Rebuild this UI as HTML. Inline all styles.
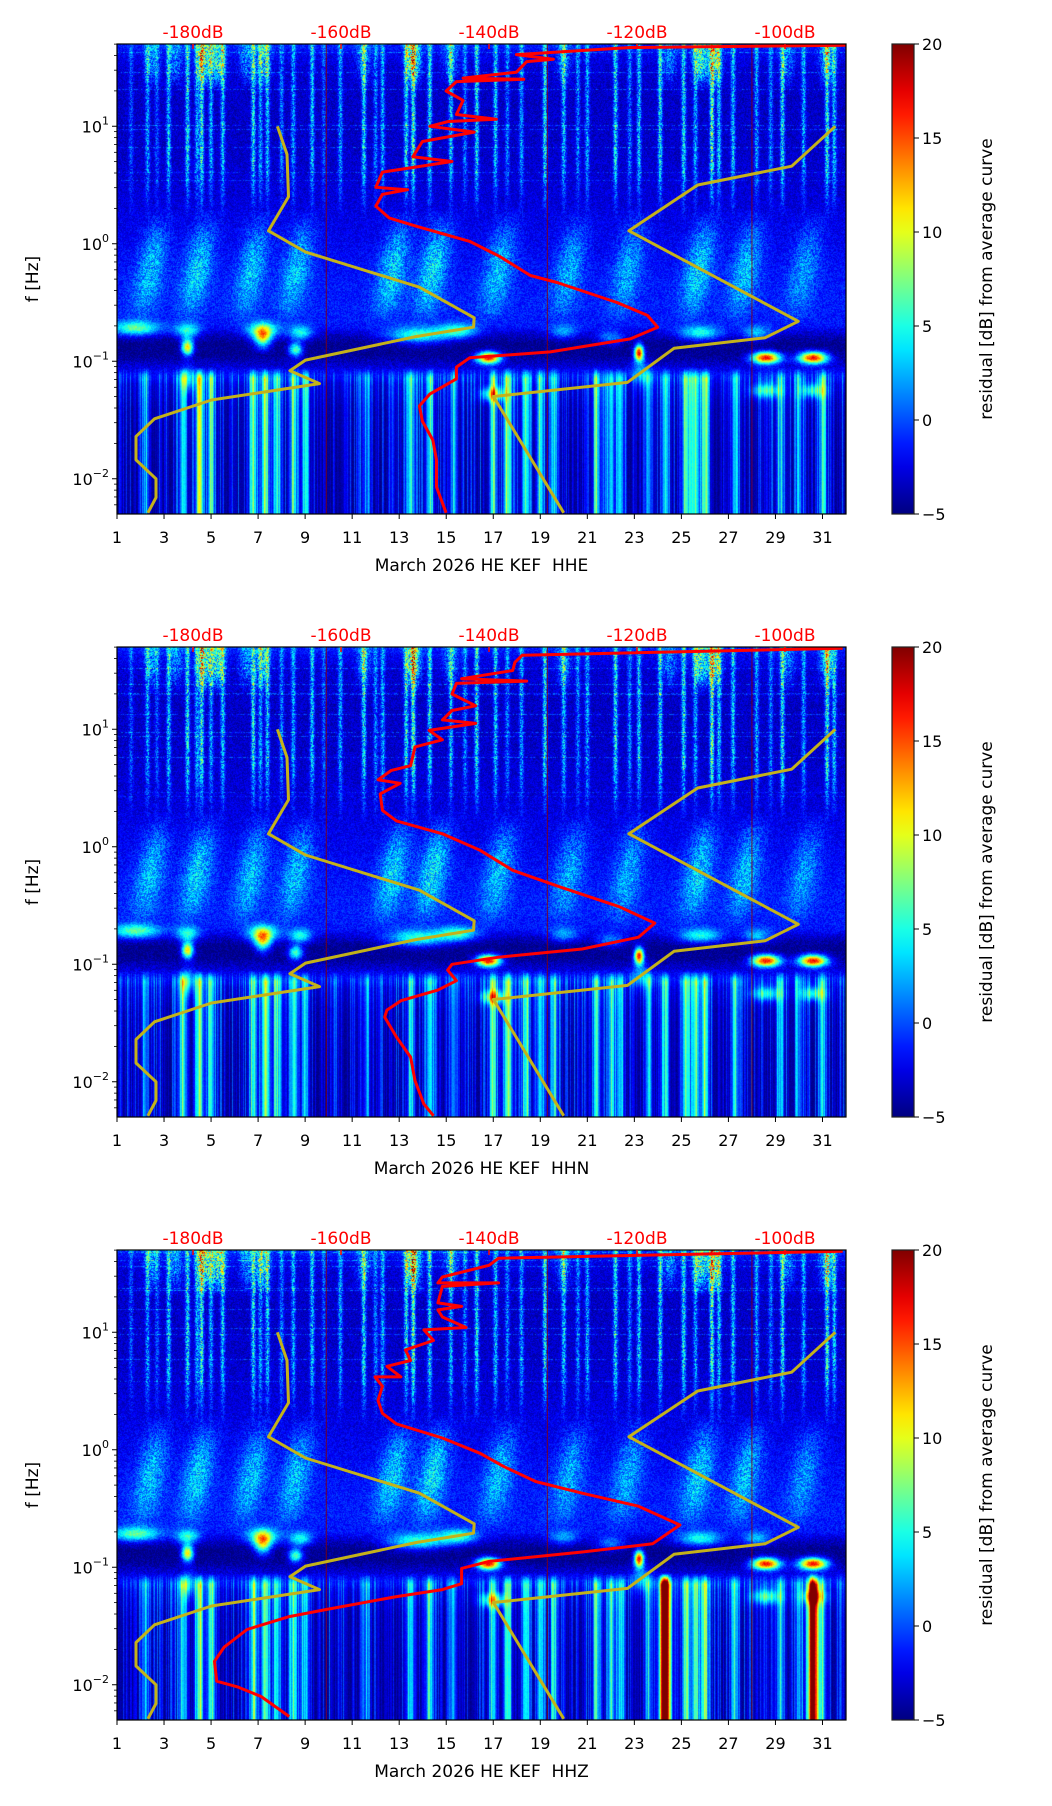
<!DOCTYPE html>
<html><head><meta charset="utf-8">
<style>
html,body{margin:0;padding:0;background:#fff;}
#wrap{position:relative;width:1052px;height:1806px;overflow:hidden;}
canvas{position:absolute;}
svg{position:absolute;left:0;top:0;}
text{font-family:"DejaVu Sans","Liberation Sans",sans-serif;}
</style></head>
<body>
<div id="wrap">
<canvas id="c0" width="729" height="470" style="left:117px;top:44px"></canvas>
<canvas id="c1" width="729" height="470" style="left:117px;top:647px"></canvas>
<canvas id="c2" width="729" height="470" style="left:117px;top:1250px"></canvas>
<svg id="s" width="1052" height="1806"></svg>
</div>
<script>
// ---- data ----
const xTicks = [1,3,5,7,9,11,13,15,17,19,21,23,25,27,29,31];
const yTickExp = [-2,-1,0,1];
const dbTicks = [-180,-160,-140,-120,-100];
const cbTicks = [-5,0,5,10,15,20];
const titles = ["March 2026 HE KEF\u00a0\u00a0HHE","March 2026 HE KEF\u00a0\u00a0HHN","March 2026 HE KEF\u00a0\u00a0HHZ"];
const panelTops = [44,647,1250];
const gapDays = [9.9,19.3,28.0];

const nlnmDb   = [-168.6,-167.3,-167.1,-169.8,-164.8,-149.4,-142.0,-142.1,-149.9,-164.8,-166.9,-162.9,-177.5,-185.2,-187.7,-187.7,-185.0,-185.0,-186.1];
const nlnmLogf = [1.0,0.76,0.40,0.11,-0.07,-0.37,-0.63,-0.71,-0.79,-0.99,-1.08,-1.19,-1.33,-1.49,-1.64,-1.84,-2.0,-2.16,-2.29];
const nhnmDb   = [-93.2,-99.1,-111.8,-121.1,-98.2,-102.7,-115.0,-121.3,-139.4,-129.9];
const nhnmLogf = [1.0,0.66,0.50,0.11,-0.66,-0.80,-0.89,-1.18,-1.30,-2.29];

const redDb1   = [-91.8,-120.9,-136.3,-131.3,-134.9,-136.3,-143.5,-135.3,-144.4,-145.8,-143.5,-144.4,-139.0,-145.5,-148.0,-142.0,-149.0,-150.3,-145.0,-154.4,-155.3,-151.0,-154.4,-155.3,-153.5,-149.9,-142.6,-138.5,-134.4,-130.8,-122.7,-118.6,-117.2,-120.9,-131.7,-142.6,-144.4,-144.4,-148.0,-149.4,-149.0,-147.6,-147.1,-147.1,-145.8];
const redLogf1 = [1.69,1.67,1.61,1.57,1.55,1.46,1.41,1.40,1.38,1.30,1.22,1.10,1.06,1.04,1.00,0.95,0.87,0.74,0.70,0.61,0.48,0.46,0.42,0.32,0.22,0.15,0.02,-0.11,-0.27,-0.33,-0.50,-0.61,-0.71,-0.81,-0.92,-0.97,-1.05,-1.15,-1.28,-1.38,-1.51,-1.67,-1.84,-2.07,-2.29];
const redDb2   = [-92.2,-135.5,-136.5,-136.8,-143.7,-134.9,-144.4,-145.0,-141.8,-145.0,-146.3,-141.8,-148.1,-146.3,-150.0,-150.6,-153.2,-155.0,-152.0,-154.7,-154.4,-152.5,-146.3,-141.2,-136.8,-130.5,-122.4,-117.6,-119.8,-127.4,-138.7,-145.0,-145.6,-144.4,-146.9,-151.9,-153.8,-154.1,-152.5,-150.6,-150.0,-148.8,-147.5];
const redLogf2 = [1.69,1.63,1.57,1.50,1.43,1.41,1.39,1.30,1.20,1.16,1.08,1.05,0.99,0.91,0.85,0.69,0.65,0.57,0.54,0.45,0.31,0.22,0.11,-0.03,-0.20,-0.34,-0.51,-0.65,-0.77,-0.87,-0.94,-1.00,-1.05,-1.14,-1.22,-1.31,-1.39,-1.45,-1.62,-1.79,-1.99,-2.19,-2.29];
const redDb3   = [-92.2,-138.7,-140.0,-146.3,-146.9,-138.7,-146.3,-146.9,-143.7,-146.9,-146.3,-143.1,-148.8,-147.5,-151.3,-150.6,-153.8,-151.9,-155.4,-154.4,-155.0,-154.4,-152.5,-146.3,-141.2,-138.1,-133.7,-127.4,-119.8,-114.2,-117.9,-127.4,-140.0,-143.7,-143.7,-146.3,-152.5,-162.0,-167.0,-172.7,-175.8,-177.1,-176.8,-173.9,-170.8,-167.0];
const redLogf3 = [1.69,1.63,1.57,1.47,1.42,1.42,1.39,1.25,1.22,1.19,1.13,1.04,1.02,0.93,0.85,0.76,0.71,0.62,0.62,0.54,0.42,0.31,0.22,0.10,-0.03,-0.14,-0.27,-0.37,-0.48,-0.64,-0.80,-0.87,-0.95,-1.01,-1.14,-1.19,-1.25,-1.36,-1.42,-1.53,-1.68,-1.80,-1.97,-2.02,-2.10,-2.27];

// spectrogram features
const rowLogf = [1.7,1.62,1.5,1.2,0.8,0.4,0.0,-0.3,-0.55,-0.7,-0.78,-0.85,-0.95,-1.05,-1.12,-1.2,-1.4,-1.8,-2.3];
const rowVal  = [-1.0,-2.2,-3.0,-3.3,-3.2,-2.8,-2.2,-1.5,-1.2,-1.5,-3.5,-4.7,-4.5,-2.8,-2.0,-3.5,-4.4,-4.7,-4.7];
const hfDays = [1.6,2.3,2.7,3.2,4.0,4.4,4.6,5.0,5.5,6.8,7.1,7.4,8.0,8.5,9.3,9.8,10.5,11.5,12.0,12.3,13.3,13.6,14.3,15.2,15.8,16.3,17.1,17.6,18.2,19.2,20.0,20.6,21.0,22.2,22.8,23.2,24.1,25.1,25.6,26.3,26.6,27.2,28.2,28.8,29.3,30.2,31.2,31.5];
const hfAmp  = [3,5,3,6,7,5,8,5,6,7,5,6,4,5,6,3,5,7,4,5,7,9,7,6,4,7,6,4,5,7,6,4,5,7,4,6,7,7,5,9,6,6,5,4,7,5,8,6];
const topDays = [2.5,3.5,4.7,5.3,6.5,7.2,11.5,13.6,15.2,20.0,24.5,25.8,26.4,29.5,31.2];
const topAmp  = [4,4,9,8,4,6,4,10,4,4,4,8,8,4,6];
const midDays = [2.0,4.0,6.3,8.2,12.3,14.0,16.8,19.8,22.3,25.3,27.3,29.8];
const midAmp  = [4.5,5,4.5,4.5,5,5.5,4.5,4,4,5,4.5,3.5];
const lfDays = [2.2,3.8,4.5,5.0,6.8,7.3,7.8,8.5,9.0,11.6,13.5,14.3,15.3,17.0,17.6,18.4,19.0,19.6,21.4,22.0,22.4,23.6,24.3,25.2,25.6,26.0,27.3,29.2,30.0,31.0];
const lfAmp  = [5,8,11,8,9,11,8,8,7,4,7,8,5,8,10,9,8,7,8,7,7,6,7,10,10,10,7,6,5,7];
const blobDay  = [4.0,7.2,8.6,16.8,23.2,28.6,30.6,17.0,28.6,30.6,4.0,1.8,4.0,7.2,8.8,13.8,15.5,20.0,22.0,25.8,28.2,23.3];
const blobLogf = [-0.88,-0.8,-0.9,-0.97,-0.93,-0.97,-0.97,-1.28,-1.25,-1.25,-1.15,-0.72,-0.74,-0.74,-0.76,-0.78,-0.74,-0.75,-0.8,-0.76,-0.76,-1.1];
const blobAmp  = [16,12,11,21,21,21,21,10,8,8,6,9,8,9,8,9,8,5,5,8,6,5];
const blobSd   = [0.25,0.35,0.3,0.5,0.2,0.6,0.6,0.5,0.6,0.5,0.3,1.0,0.5,0.7,0.5,1.3,0.8,0.6,0.6,0.9,0.6,0.4];
const blobSl   = [0.07,0.09,0.06,0.05,0.07,0.05,0.05,0.06,0.06,0.06,0.1,0.06,0.06,0.07,0.06,0.07,0.06,0.06,0.06,0.06,0.06,0.1];
const extraDays = [[],[],[24.3,30.6]];
const extraAmp  = [[],[],[26,26]];

// ---- scales ----
const X0=117, X1=846, PH=470;
function xDay(d){return X0+(d-1)*(X1-X0)/31;}
function xDb(db){return 193+(db+180)*7.4;}
function yLog(L,top){return top+(1.7-L)*PH/4;}
function jet(v){let t=Math.max(0,Math.min(1,(v+5)/25));
 const c=x=>Math.round(255*Math.max(0,Math.min(1,x)));
 return [c(1.5-Math.abs(4*t-3)),c(1.5-Math.abs(4*t-2)),c(1.5-Math.abs(4*t-1))];}
function interpRow(L){for(let i=0;i<rowLogf.length-1;i++){if(L<=rowLogf[i]&&L>=rowLogf[i+1]){const f=(rowLogf[i]-L)/(rowLogf[i]-rowLogf[i+1]);return rowVal[i]+f*(rowVal[i+1]-rowVal[i]);}}return rowVal[rowVal.length-1];}
function hash(a,b){let h=(a*374761393+b*668265263)|0;h=(h^(h>>>13))*1274126177|0;h=h^(h>>>16);return ((h>>>0)%10000)/10000;}

// ---- heatmaps ----
for(let p=0;p<3;p++){
 const cv=document.getElementById('c'+p), ctx=cv.getContext('2d');
 const W=cv.width,H=cv.height,img=ctx.createImageData(W,H);
 const colHF=[],colLF=[],colTop=[],colTex=[];
 for(let x=0;x<W;x++){const d=1+(x+0.5)/W*31;let a=0,l=0,t=0;
  hfDays.forEach((dd,i)=>{a+=hfAmp[i]*Math.exp(-Math.pow((d-dd)/0.09,2));});
  topDays.forEach((dd,i)=>{t+=topAmp[i]*Math.exp(-Math.pow((d-dd)/0.3,2));});
  lfDays.forEach((dd,i)=>{l+=lfAmp[i]*Math.exp(-Math.pow((d-dd)/0.16,2));});
  extraDays[p].forEach((dd,i)=>{l+=extraAmp[p][i]*Math.exp(-Math.pow((d-dd)/0.22,2));});
  colHF.push(a);colLF.push(l);colTop.push(t);
  colTex.push(hash(x,p+7));}
 for(let y=0;y<H;y++){const L=1.7-(y+0.5)/H*4;const base=interpRow(L);
  const hfw=L>0.2?Math.min(1,(L-0.2)/0.5):0;
  const topw=L>1.3?Math.min(1,(L-1.3)/0.2):0;
  const midw=(L<0.3&&L>-0.7)?Math.sin((L+0.7)/1.0*Math.PI):0;
  const lfw=L<-1.05?Math.min(1,(-1.05-L)/0.1):0;
  const rowTex=hash(y,p+31);
  for(let x=0;x<W;x++){const d=1+(x+0.5)/W*31;
   const n=hash(x*3+p,y);
   let v=base+hfw*colHF[x]*(0.5+n)+topw*colTop[x]*(0.4+n)+lfw*(colLF[x]+colTex[x]*colTex[x]*5.5);
   if(hfw>0&&rowTex>0.93)v+=hfw*3*n;
   if(midw>0){let m=0;for(let i=0;i<midDays.length;i++){const dc=midDays[i]+(L+0.7)*0.9;const dx=(d-dc)/0.6;if(dx*dx<9)m+=midAmp[i]*Math.exp(-dx*dx);}v+=midw*m*(0.6+0.8*n);}
   v+=(n-0.5)*2.5*(1-lfw*0.6);
   for(let b=0;b<blobDay.length;b++){const dx=(d-blobDay[b])/blobSd[b],dy=(L-blobLogf[b])/blobSl[b];const e=dx*dx+dy*dy;if(e<9)v+=blobAmp[b]*Math.exp(-e);}
   const c=jet(v),k=(y*W+x)*4;img.data[k]=c[0];img.data[k+1]=c[1];img.data[k+2]=c[2];img.data[k+3]=255;}}
 ctx.putImageData(img,0,0);
}

// ---- svg overlay ----
const S=document.getElementById('s'),NS='http://www.w3.org/2000/svg';
function mk(tag,attrs,parent,txt){const e=document.createElementNS(NS,tag);for(const k in attrs)e.setAttribute(k,attrs[k]);if(txt!==undefined)e.textContent=txt;(parent||S).appendChild(e);return e;}
function poly(dbs,lfs,top,color,w,name,parent){
 const pts=dbs.map((db,i)=>xDb(db).toFixed(1)+','+yLog(lfs[i],top).toFixed(1)).join(' ');
 const e=mk('polyline',{points:pts,fill:'none',stroke:color,'stroke-width':w,'stroke-linejoin':'round'},parent);
 
 }

const defs=mk('defs',{});
const lg=mk('linearGradient',{id:'jetg',x1:0,y1:1,x2:0,y2:0},defs);
for(let i=0;i<=20;i++){const c=jet(-5+25*i/20);mk('stop',{offset:i/20,'stop-color':'rgb('+c.join(',')+')'},lg);}

const reds=[[redDb1,redLogf1],[redDb2,redLogf2],[redDb3,redLogf3]];
for(let p=0;p<3;p++){
 const top=panelTops[p],bot=top+PH;
 const g=mk('g',{});
 
 
 const cp=mk('clipPath',{id:'cp'+p},defs);mk('rect',{x:X0,y:top,width:X1-X0,height:PH},cp);
 const cg=mk('g',{'clip-path':'url(#cp'+p+')'},g);
 gapDays.forEach(d=>{const l=mk('line',{x1:xDay(d),x2:xDay(d),y1:top,y2:bot,stroke:'#8a0000','stroke-width':1,opacity:0.8},cg);
  });
 poly(nlnmDb,nlnmLogf,top,'#c4b21a',3,'nlnm-curve',cg);
 poly(nhnmDb,nhnmLogf,top,'#c4b21a',3,'nhnm-curve',cg);
 poly(reds[p][0],reds[p][1],top,'#ff0000',3,'mean-psd-curve',cg);
 const fr=mk('rect',{x:X0,y:top,width:X1-X0,height:PH,fill:'none',stroke:'#000','stroke-width':1.2},g);
 
 xTicks.forEach(d=>{const x=xDay(d);mk('line',{x1:x,x2:x,y1:bot,y2:bot+5,stroke:'#000','stroke-width':1},g);
  const t=mk('text',{x:x,y:bot+29,'text-anchor':'middle','font-size':16},g,String(d));
  });
 yTickExp.forEach(e=>{const y=yLog(e,top);mk('line',{x1:X0,x2:X0-5,y1:y,y2:y,stroke:'#000','stroke-width':1},g);
  const t=mk('text',{x:X0-8,y:y+6,'text-anchor':'end','font-size':16},g);
  
  mk('tspan',{},t,'10');mk('tspan',{dy:-8,'font-size':11},t,e<0?'\u2212'+(-e):String(e));});
 for(let e=-3;e<=1;e++){for(let m=2;m<=9;m++){const L=e+Math.log10(m);if(L>=-2.3&&L<=1.7){const y=yLog(L,top);mk('line',{x1:X0,x2:X0-3,y1:y,y2:y,stroke:'#000','stroke-width':0.8},g);}}}
 dbTicks.forEach(db=>{const t=mk('text',{x:xDb(db),y:top-6,'text-anchor':'middle','font-size':17,fill:'#ff0000'},g,db+'dB');
  
  mk('line',{x1:xDb(db),x2:xDb(db),y1:top,y2:top+5,stroke:'#ff0000','stroke-width':1.5},g);});
 const xt=mk('text',{x:(X0+X1)/2,y:bot+57,'text-anchor':'middle','font-size':17},g,titles[p]);
 
 const yt=mk('text',{x:0,y:0,'text-anchor':'middle','font-size':17,transform:'translate(38,'+(top+PH/2)+') rotate(-90)'},g,'f [Hz]');
 
 const cb=mk('rect',{x:892,y:top,width:22,height:PH,fill:'url(#jetg)',stroke:'#222','stroke-width':1.2},g);
 
 cbTicks.forEach(v=>{const y=bot-(v+5)/25*PH;mk('line',{x1:914,x2:919,y1:y,y2:y,stroke:'#000','stroke-width':1},g);
  const t=mk('text',{x:922,y:y+6,'font-size':16},g,v<0?'\u2212'+(-v):String(v));
  });
 const ct=mk('text',{x:0,y:0,'text-anchor':'middle','font-size':17,transform:'translate(992,'+(top+PH/2)+') rotate(-90)'},g,'residual [dB] from average curve');
 
}
</script>
</body></html>
